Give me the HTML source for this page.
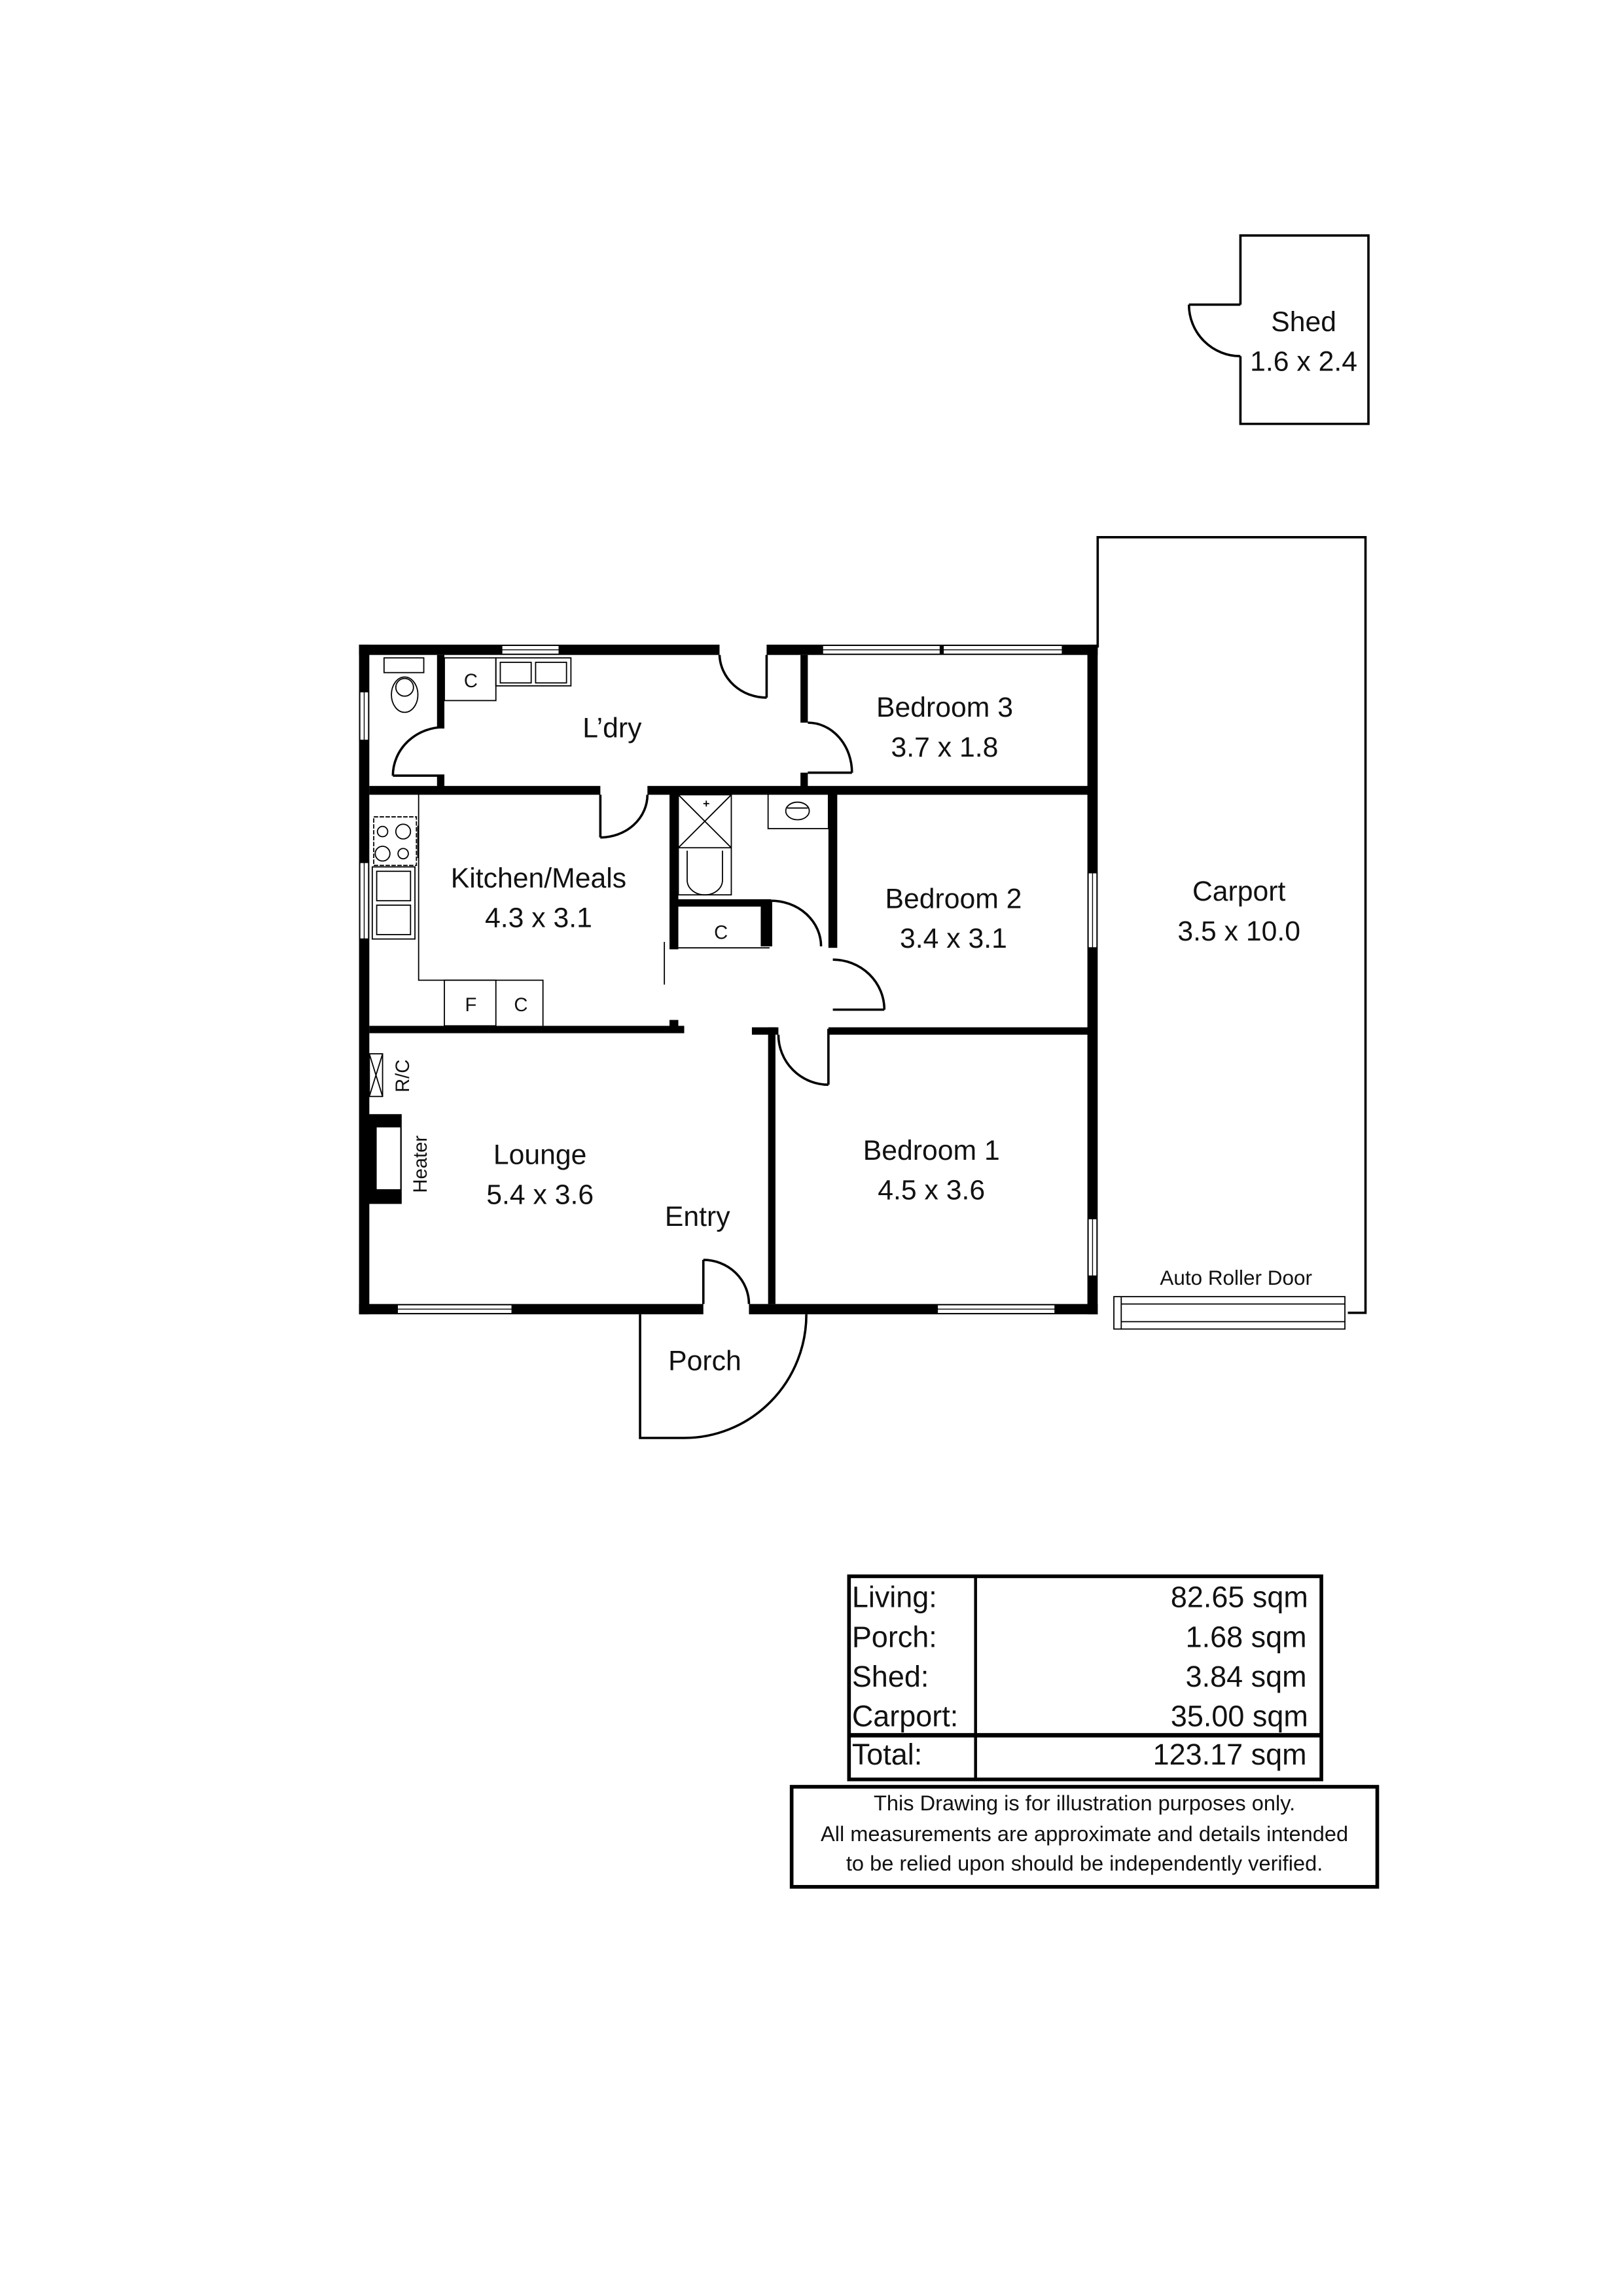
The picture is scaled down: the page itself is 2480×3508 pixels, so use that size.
<!DOCTYPE html>
<html><head><meta charset="utf-8"><style>
html,body{margin:0;padding:0;background:#fff}
svg{display:block}
text{font-family:"Liberation Sans",sans-serif;fill:#111}
</style></head><body>
<svg width="2480" height="3508" viewBox="0 0 1103 1560" preserveAspectRatio="none" xmlns="http://www.w3.org/2000/svg">
<rect x="0" y="0" width="1103" height="1560" fill="#fff"/>
<g fill="#000">
<!-- outer walls -->
<rect x="244" y="438" width="7" height="455"/>
<rect x="244" y="438" width="502" height="7"/>
<rect x="739" y="438" width="7" height="455"/>
<rect x="244" y="886" width="502" height="7"/>
<!-- interior: toilet wall -->
<rect x="297" y="445" width="5" height="50"/>
<rect x="297" y="527" width="5" height="10"/>
<!-- horizontal wall L'dry/kitchen -->
<rect x="251" y="534" width="157" height="6"/>
<rect x="440" y="534" width="300" height="6"/>
<!-- bedroom3 left wall -->
<rect x="544" y="445" width="5" height="46"/>
<rect x="544" y="525" width="5" height="12"/>
<!-- kitchen/lounge wall -->
<rect x="251" y="697" width="214" height="5"/>
<rect x="455" y="693" width="6" height="6"/>
<rect x="511" y="698" width="18" height="5"/>
<rect x="563" y="698" width="177" height="5"/>
<!-- bedroom1 left wall -->
<rect x="522" y="698" width="5" height="188"/>
<!-- bathroom wall -->
<rect x="455" y="539" width="6" height="106"/>
<rect x="455" y="611" width="68" height="5"/>
<rect x="517" y="611" width="7" height="32"/>
<!-- bedroom2 left wall -->
<rect x="563" y="539" width="6" height="105"/>
<!-- heater -->
<rect x="250" y="757" width="23" height="61"/>
</g>
<rect x="256" y="766" width="16" height="42" fill="#fff"/>
<!-- windows -->
<g fill="#fff" stroke="#000" stroke-width="0.8">
<rect x="341" y="438.5" width="39" height="6"/>
<rect x="559" y="438.5" width="80" height="6"/>
<rect x="641" y="438.5" width="81" height="6"/>
<rect x="244.5" y="470" width="6" height="33"/>
<rect x="244.5" y="586" width="6" height="52"/>
<rect x="739.5" y="593" width="6" height="51"/>
<rect x="739.5" y="828" width="6" height="39"/>
<rect x="270" y="886.5" width="78" height="6"/>
<rect x="637" y="886.5" width="80" height="6"/>
</g>
<g stroke="#000" stroke-width="0.6">
<line x1="341" y1="441.5" x2="380" y2="441.5"/>
<line x1="559" y1="441.5" x2="722" y2="441.5"/>
<line x1="247.5" y1="470" x2="247.5" y2="503"/>
<line x1="247.5" y1="586" x2="247.5" y2="638"/>
<line x1="742.5" y1="593" x2="742.5" y2="644"/>
<line x1="742.5" y1="828" x2="742.5" y2="867"/>
<line x1="270" y1="889.5" x2="348" y2="889.5"/>
<line x1="637" y1="889.5" x2="717" y2="889.5"/>
</g>
<!-- door openings (white gaps) -->
<g fill="#fff">
<rect x="489" y="437" width="32" height="9"/>
<rect x="478" y="885" width="31" height="9"/>
</g>
<!-- doors -->
<g fill="none" stroke="#000" stroke-width="1.6">
<line x1="521" y1="445" x2="521" y2="474"/>
<path d="M489 445 A32 30 0 0 0 521 474"/>
<line x1="267" y1="527" x2="302" y2="527"/>
<path d="M302 494 A35 33 0 0 0 267 527"/>
<line x1="549" y1="525" x2="579" y2="525"/>
<path d="M549 491 A30 34 0 0 1 579 525"/>
<line x1="408" y1="540" x2="408" y2="569"/>
<path d="M408 569 A32 29 0 0 0 440 540"/>
<line x1="524" y1="612" x2="524" y2="643"/>
<path d="M524 612 A34 31 0 0 1 558 643"/>
<line x1="566" y1="686" x2="601" y2="686"/>
<path d="M566 652 A35 34 0 0 1 601 686"/>
<line x1="563" y1="699" x2="563" y2="737"/>
<path d="M529 703 A34 34 0 0 0 563 737"/>
<line x1="478" y1="856" x2="478" y2="886"/>
<path d="M478 856 A31 30 0 0 1 509 886"/>
<!-- porch -->
<path d="M435 893 L435 977 L465 977 A83 84 0 0 0 548 893"/>
<!-- shed -->
<path d="M843 207 L843 160 L930 160 L930 288 L843 288 L843 242"/>
<line x1="808" y1="207" x2="843" y2="207"/>
<path d="M808 207 A35 35 0 0 0 843 242"/>
<!-- carport -->
<path d="M746 440 L746 365 L928 365 L928 892 L916 892"/>
</g>
<!-- thin fixtures -->
<g fill="none" stroke="#000" stroke-width="0.8">
<line x1="451.5" y1="640" x2="451.5" y2="669"/>
<path d="M284.5 539 L284.5 666 L369 666 L369 697"/>
<rect x="302" y="666" width="35" height="31"/>
<rect x="302" y="447" width="35" height="29"/>
<rect x="337" y="447" width="51" height="19"/>
<rect x="340" y="450" width="21" height="14"/>
<rect x="364" y="450" width="21" height="14"/>
<rect x="261" y="447" width="27" height="10"/>
<ellipse cx="275" cy="472" rx="9" ry="12"/>
<ellipse cx="275" cy="467" rx="6" ry="6"/>
<rect x="254" y="555" width="29" height="33" stroke-dasharray="3 1"/>
<circle cx="260" cy="565" r="3.5"/><circle cx="274" cy="565" r="5"/>
<circle cx="260" cy="580" r="5"/><circle cx="274" cy="580" r="3.5"/>
<line x1="284" y1="561" x2="284" y2="583"/>
<rect x="253" y="589" width="29" height="49"/>
<rect x="256" y="592" width="23" height="20"/>
<rect x="256" y="615" width="23" height="20"/>
<rect x="461" y="540" width="36" height="68"/>
<path d="M461 576 L497 576 M461 540 L497 576 M497 540 L461 576"/>
<path d="M467 578 L467 598 A12 10 0 0 0 491 598 L491 578"/>
<line x1="478" y1="546" x2="482" y2="546"/><line x1="480" y1="544" x2="480" y2="548"/>
<line x1="461" y1="644" x2="523" y2="644"/>
<rect x="522" y="539" width="41" height="24"/>
<ellipse cx="542" cy="551" rx="8" ry="6"/>
<path d="M535 549 L549 549"/>
<rect x="251" y="716" width="9" height="29"/>
<path d="M251 716 L260 745 M260 716 L251 745"/>
<rect x="757" y="881" width="157" height="22"/>
<line x1="762" y1="886" x2="914" y2="886"/>
<line x1="762" y1="898" x2="914" y2="898"/>
<line x1="762" y1="881" x2="762" y2="903"/>
</g>
<!-- labels -->
<g font-size="19" text-anchor="middle">
<text x="886" y="225">Shed</text><text x="886" y="252">1.6 x 2.4</text>
<text x="642" y="487">Bedroom 3</text><text x="642" y="514">3.7 x 1.8</text>
<text x="416" y="501">L’dry</text>
<text x="366" y="603">Kitchen/Meals</text><text x="366" y="630">4.3 x 3.1</text>
<text x="648" y="617">Bedroom 2</text><text x="648" y="644">3.4 x 3.1</text>
<text x="842" y="612">Carport</text><text x="842" y="639">3.5 x 10.0</text>
<text x="367" y="791">Lounge</text><text x="367" y="818">5.4 x 3.6</text>
<text x="474" y="833">Entry</text>
<text x="633" y="788">Bedroom 1</text><text x="633" y="815">4.5 x 3.6</text>
<text x="479" y="931">Porch</text>
</g>
<g font-size="13" text-anchor="middle">
<text x="320" y="467">C</text><text x="320" y="687">F</text><text x="354" y="687">C</text>
<text x="490" y="638">C</text>
<text x="0" y="0" transform="translate(278,731) rotate(-90)">R/C</text>
<text x="0" y="0" transform="translate(290,791) rotate(-90)">Heater</text>
</g>
<text x="840" y="873" font-size="14" text-anchor="middle">Auto Roller Door</text>
<!-- table -->
<g fill="none" stroke="#000">
<rect x="577" y="1071" width="321" height="138" stroke-width="2.5"/>
<line x1="663" y1="1071" x2="663" y2="1209" stroke-width="2"/>
<line x1="577" y1="1179" x2="898" y2="1179" stroke-width="3"/>
<rect x="538" y="1214" width="398" height="68" stroke-width="2.5"/>
</g>
<g font-size="20">
<text x="579" y="1092">Living:</text><text x="579" y="1119">Porch:</text>
<text x="579" y="1146">Shed:</text><text x="579" y="1173">Carport:</text>
<text x="579" y="1199">Total:</text>
</g>
<g font-size="20" text-anchor="end">
<text x="889" y="1092">82.65 sqm</text><text x="888" y="1119">1.68 sqm</text>
<text x="888" y="1146">3.84 sqm</text><text x="889" y="1173">35.00 sqm</text>
<text x="888" y="1199">123.17 sqm</text>
</g>
<g font-size="14.5" text-anchor="middle">
<text x="737" y="1230">This Drawing is for illustration purposes only.</text>
<text x="737" y="1251">All measurements are approximate and details intended</text>
<text x="737" y="1271">to be relied upon should be independently verified.</text>
</g>
</svg>
</body></html>
